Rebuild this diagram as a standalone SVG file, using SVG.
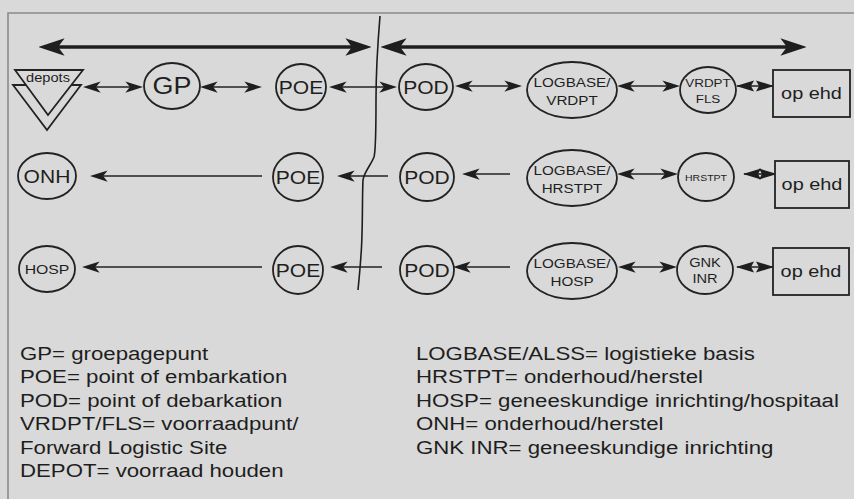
<svg xmlns="http://www.w3.org/2000/svg" width="854" height="499" viewBox="0 0 854 499">
<style>
  .node { fill: #d9d9d9; stroke: #222; stroke-width: 1.8; }
  .lbl { font-family: "Liberation Sans", Arial, sans-serif; fill: #1e1e1e; text-anchor: middle; }
  .leg { font-family: "Liberation Sans", Arial, sans-serif; fill: #1e1e1e; font-size: 19px; }
  .con { stroke: #222; stroke-width: 1.6; fill: none; }
  .big { stroke: #1e1e1e; stroke-width: 3.6; fill: none; }
</style>
<defs>
  <marker id="ah" markerUnits="userSpaceOnUse" markerWidth="18" markerHeight="12" refX="13" refY="5" orient="auto-start-reverse" viewBox="0 0 16 10">
    <path d="M0,0 L16,5 L0,10 L4,5 z" fill="#1e1e1e"/>
  </marker>
  <marker id="ahw" markerUnits="userSpaceOnUse" markerWidth="18" markerHeight="13" refX="17" refY="6.5" orient="auto-start-reverse" viewBox="0 0 18 13">
    <path d="M0,1 L18,6.5 L0,12 L3,6.5 z" fill="#1e1e1e"/>
  </marker>
  <marker id="ahb" markerUnits="userSpaceOnUse" markerWidth="26" markerHeight="18" refX="19" refY="8" orient="auto-start-reverse" viewBox="0 0 24 16">
    <path d="M0,0 L24,8 L0,16 L6,8 z" fill="#1e1e1e"/>
  </marker>
</defs>
<rect x="0" y="0" width="854" height="499" fill="#d9d9d9"/>
<g id="frame" fill="none" stroke="#8a8a8a" stroke-width="1.6">
  <path d="M8,499 L8,13 L854,13"/>
</g>
<g id="connectors">
  <line class="big" x1="44" y1="47" x2="366" y2="47" marker-start="url(#ahb)" marker-end="url(#ahb)"/>
  <line class="big" x1="386" y1="47" x2="801" y2="47" marker-start="url(#ahb)" marker-end="url(#ahb)"/>
  <path id="divider" d="M380,16 C378,40 376,70 376,100 C376,130 376,150 374,157 C371,165 364,172 363,180 C362,200 363,230 361,255 C360,270 359,280 358,290" stroke="#1e1e1e" stroke-width="1.6" fill="none"/>
  <!-- row 1 -->
  <line class="con" x1="86" y1="87" x2="140" y2="87" marker-start="url(#ah)" marker-end="url(#ah)"/>
  <line class="con" x1="203" y1="87" x2="259" y2="87" marker-start="url(#ah)" marker-end="url(#ah)"/>
  <line class="con" x1="332" y1="87" x2="394" y2="87" marker-start="url(#ah)" marker-end="url(#ah)"/>
  <line class="con" x1="458" y1="86" x2="519" y2="86" marker-start="url(#ah)" marker-end="url(#ah)"/>
  <line class="con" x1="620" y1="86" x2="677" y2="86" marker-start="url(#ah)" marker-end="url(#ah)"/>
  <line class="con" x1="737" y1="86" x2="773" y2="86" marker-start="url(#ahw)" marker-end="url(#ahw)"/>
  <!-- row 2 -->
  <line class="con" x1="93" y1="176" x2="262" y2="176" marker-start="url(#ah)"/>
  <line class="con" x1="340" y1="176" x2="388" y2="176" marker-start="url(#ah)"/>
  <line class="con" x1="465" y1="174" x2="510" y2="174" marker-start="url(#ah)"/>
  <line class="con" x1="620" y1="174" x2="675" y2="174" marker-start="url(#ah)" marker-end="url(#ah)"/>
  <line class="con" x1="744" y1="174" x2="776" y2="174" marker-start="url(#ahw)" marker-end="url(#ahw)"/>
  <!-- row 3 -->
  <line class="con" x1="85" y1="267" x2="262" y2="267" marker-start="url(#ah)"/>
  <line class="con" x1="333" y1="267" x2="382" y2="267" marker-start="url(#ah)"/>
  <line class="con" x1="456" y1="267" x2="510" y2="267" marker-start="url(#ah)"/>
  <line class="con" x1="621" y1="267" x2="674" y2="267" marker-start="url(#ah)" marker-end="url(#ah)"/>
  <line class="con" x1="737" y1="267" x2="773" y2="267" marker-start="url(#ahw)" marker-end="url(#ahw)"/>
</g>
<g id="depots">
  <polygon class="node" points="13,85 81,85 47,130"/>
  <polygon class="node" points="15,70 83,70 48,115"/>
  <text class="lbl" font-size="12.5" transform="translate(48,82) scale(1.17,1)">depots</text>
</g>
<g id="gp">
  <ellipse class="node" cx="172" cy="86" rx="28" ry="23"/>
  <text class="lbl" font-size="23" transform="translate(172,94) scale(1.17,1)">GP</text>
</g>
<g id="poe1">
  <ellipse class="node" cx="301" cy="87" rx="25" ry="23"/>
  <text class="lbl" font-size="18" transform="translate(301,93.5) scale(1.17,1)">POE</text>
</g>
<g id="pod1">
  <ellipse class="node" cx="426" cy="87" rx="27" ry="23"/>
  <text class="lbl" font-size="18" transform="translate(426,93.5) scale(1.17,1)">POD</text>
</g>
<g id="logbase-vrdpt">
  <ellipse class="node" cx="572" cy="90" rx="45" ry="28"/>
  <text class="lbl" font-size="13" transform="translate(572,87) scale(1.17,1)">LOGBASE/</text>
  <text class="lbl" font-size="13" transform="translate(572,105) scale(1.17,1)">VRDPT</text>
</g>
<g id="vrdpt-fls">
  <ellipse class="node" cx="708" cy="90" rx="28" ry="23"/>
  <text class="lbl" font-size="11.5" transform="translate(708,87) scale(1.17,1)">VRDPT</text>
  <text class="lbl" font-size="11.5" transform="translate(708,103) scale(1.17,1)">FLS</text>
</g>
<g id="opehd1">
  <rect class="node" x="773" y="70" width="77" height="47"/>
  <text class="lbl" font-size="17" transform="translate(811.5,99) scale(1.17,1)">op ehd</text>
</g>
<g id="onh">
  <ellipse class="node" cx="47" cy="176" rx="29" ry="23"/>
  <text class="lbl" font-size="18" transform="translate(47,182.5) scale(1.17,1)">ONH</text>
</g>
<g id="poe2">
  <ellipse class="node" cx="298" cy="177" rx="25" ry="24"/>
  <text class="lbl" font-size="18" transform="translate(298,183.5) scale(1.17,1)">POE</text>
</g>
<g id="pod2">
  <ellipse class="node" cx="427" cy="177" rx="27" ry="24"/>
  <text class="lbl" font-size="18" transform="translate(427,183.5) scale(1.17,1)">POD</text>
</g>
<g id="logbase-hrstpt">
  <ellipse class="node" cx="572" cy="178" rx="45" ry="28"/>
  <text class="lbl" font-size="13" transform="translate(572,175) scale(1.17,1)">LOGBASE/</text>
  <text class="lbl" font-size="13" transform="translate(572,193) scale(1.17,1)">HRSTPT</text>
</g>
<g id="hrstpt">
  <ellipse class="node" cx="706" cy="177" rx="28" ry="24"/>
  <text class="lbl" font-size="9" transform="translate(706,180.5) scale(1.17,1)">HRSTPT</text>
</g>
<g id="opehd2">
  <rect class="node" x="775" y="161" width="74" height="47"/>
  <text class="lbl" font-size="17" transform="translate(812,190) scale(1.17,1)">op ehd</text>
</g>
<g id="hosp">
  <ellipse class="node" cx="47" cy="269" rx="28" ry="23"/>
  <text class="lbl" font-size="13.5" transform="translate(47,274) scale(1.17,1)">HOSP</text>
</g>
<g id="poe3">
  <ellipse class="node" cx="298" cy="270" rx="25" ry="24"/>
  <text class="lbl" font-size="18" transform="translate(298,276.5) scale(1.17,1)">POE</text>
</g>
<g id="pod3">
  <ellipse class="node" cx="427" cy="270" rx="27" ry="24"/>
  <text class="lbl" font-size="18" transform="translate(427,276.5) scale(1.17,1)">POD</text>
</g>
<g id="logbase-hosp">
  <ellipse class="node" cx="572" cy="271" rx="45" ry="28"/>
  <text class="lbl" font-size="13" transform="translate(572,268) scale(1.17,1)">LOGBASE/</text>
  <text class="lbl" font-size="13" transform="translate(572,286) scale(1.17,1)">HOSP</text>
</g>
<g id="gnk-inr">
  <ellipse class="node" cx="705" cy="270" rx="28" ry="24"/>
  <text class="lbl" font-size="12.5" transform="translate(705,267) scale(1.17,1)">GNK</text>
  <text class="lbl" font-size="12.5" transform="translate(705,283) scale(1.17,1)">INR</text>
</g>
<g id="opehd3">
  <rect class="node" x="773" y="248" width="76" height="47"/>
  <text class="lbl" font-size="17" transform="translate(811,277) scale(1.17,1)">op ehd</text>
</g>
<g id="legend-left" class="leg" transform="translate(20,0) scale(1.17,1)">
  <text x="0" y="360">GP= groepagepunt</text>
  <text x="0" y="383.5">POE= point of embarkation</text>
  <text x="0" y="407">POD= point of debarkation</text>
  <text x="0" y="430.5">VRDPT/FLS= voorraadpunt/</text>
  <text x="0" y="454">Forward Logistic Site</text>
  <text x="0" y="477.5">DEPOT= voorraad houden</text>
</g>
<g id="legend-right" class="leg" transform="translate(416,0) scale(1.17,1)">
  <text x="0" y="360">LOGBASE/ALSS= logistieke basis</text>
  <text x="0" y="383.5">HRSTPT= onderhoud/herstel</text>
  <text x="0" y="407">HOSP= geneeskundige inrichting/hospitaal</text>
  <text x="0" y="430.5">ONH= onderhoud/herstel</text>
  <text x="0" y="454">GNK INR= geneeskundige inrichting</text>
</g>
</svg>
